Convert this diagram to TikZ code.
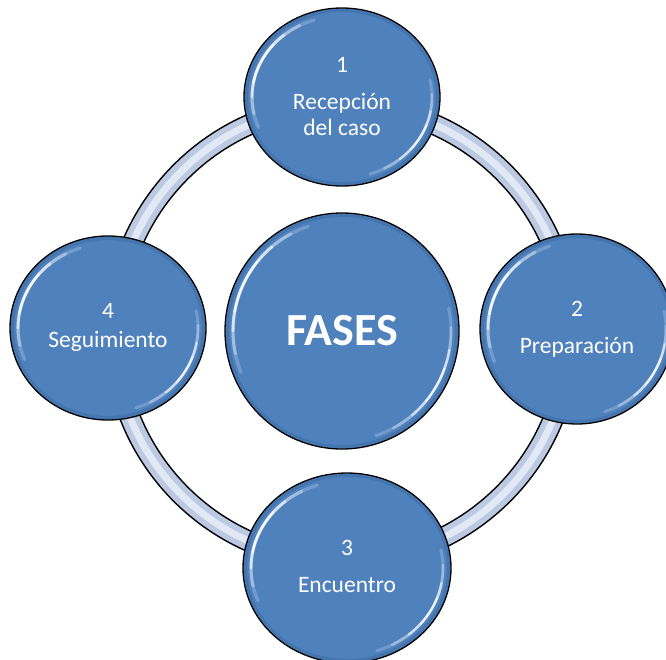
\documentclass[tikz,border=0pt]{standalone}
\usepackage{fontspec}
\setmainfont{Carlito}
\usetikzlibrary{shapes.geometric}

\definecolor{bubblefill}{HTML}{4F81BD}
\definecolor{bubblerim}{HTML}{3A679E}
\definecolor{ringfill}{HTML}{BCC9E2}
\definecolor{ringglow}{HTML}{E9EEF8}

% glossy white crescents inside an elliptic bubble: node, x radius, y radius
% (y axis points down: 180 is left, 270 is up)
\newcommand\bubblegloss[3]{%
  \pgfmathsetmacro\glrx{#2-8}%
  \pgfmathsetmacro\glry{#3-8}%
  \draw[bubblerim, line width=3pt, opacity=.45]
    (#1.center) ellipse[x radius=#2-2.5, y radius=#3-2.5];
  \foreach \ga/\gb/\go/\gw in {158/252/.2/3.4, 168/242/.35/3, 180/230/.6/2.6, 190/220/.8/2}{
    \draw[white, line width=\gw pt, opacity=\go, line cap=round]
      (#1.center) ++({\glrx*cos(\ga)},{\glry*sin(\ga)})
      arc[start angle=\ga, end angle=\gb, x radius=\glrx, y radius=\glry];
  }
  \foreach \ga/\gb/\go/\gw in {-12/72/.2/3, -2/62/.3/2.6, 10/50/.55/2.2, 20/40/.7/1.8}{
    \draw[white, line width=\gw pt, opacity=\go, line cap=round]
      (#1.center) ++({\glrx*cos(\ga)},{\glry*sin(\ga)})
      arc[start angle=\ga, end angle=\gb, x radius=\glrx, y radius=\glry];
  }
}

\tikzset{
  bubble/.style={ellipse, draw=black, line width=1.3pt, fill=bubblefill,
    text=white, inner sep=0pt, align=center,
    font=\fontsize{23.5}{26}\selectfont},
  hubbubble/.style={bubble, font=\fontsize{46}{50}\selectfont\bfseries},
}

\begin{document}
\begin{tikzpicture}[x=1pt, y=-1pt]
\useasboundingbox (0,0) rectangle (666,659);

% the cycle ring behind the phases
\coordinate (ringcentre) at (342,333);
\draw[ringfill, line width=20pt] (ringcentre) circle[radius=228];
\draw[ringglow, line width=7pt, opacity=.85] (ringcentre) circle[radius=228];
\draw[black, line width=1.4pt] (ringcentre) circle[radius=218];
\draw[black, line width=1.4pt] (ringcentre) circle[radius=238];

% centre and the four phases
\node[hubbubble, minimum width=234pt, minimum height=236pt] (hub) at (342,331) {FASES};
\node[bubble, minimum width=196pt, minimum height=178pt] (p1) at (342,97)
  {1\\[11pt]Recepción\\del caso};
\node[bubble, minimum width=194pt, minimum height=190pt] (p2) at (577,329)
  {2\\[11pt]Preparación};
\node[bubble, minimum width=208pt, minimum height=190pt] (p3) at (347,568)
  {3\\[11pt]Encuentro\\[-22pt]\mbox{}};
\node[bubble, minimum width=196pt, minimum height=184pt] (p4) at (108,328)
  {4\\[3pt]Seguimiento\\[-20pt]\mbox{}};

\bubblegloss{hub}{117}{118}
\bubblegloss{p1}{98}{89}
\bubblegloss{p2}{97}{95}
\bubblegloss{p3}{104}{95}
\bubblegloss{p4}{98}{92}
\end{tikzpicture}
\end{document}
